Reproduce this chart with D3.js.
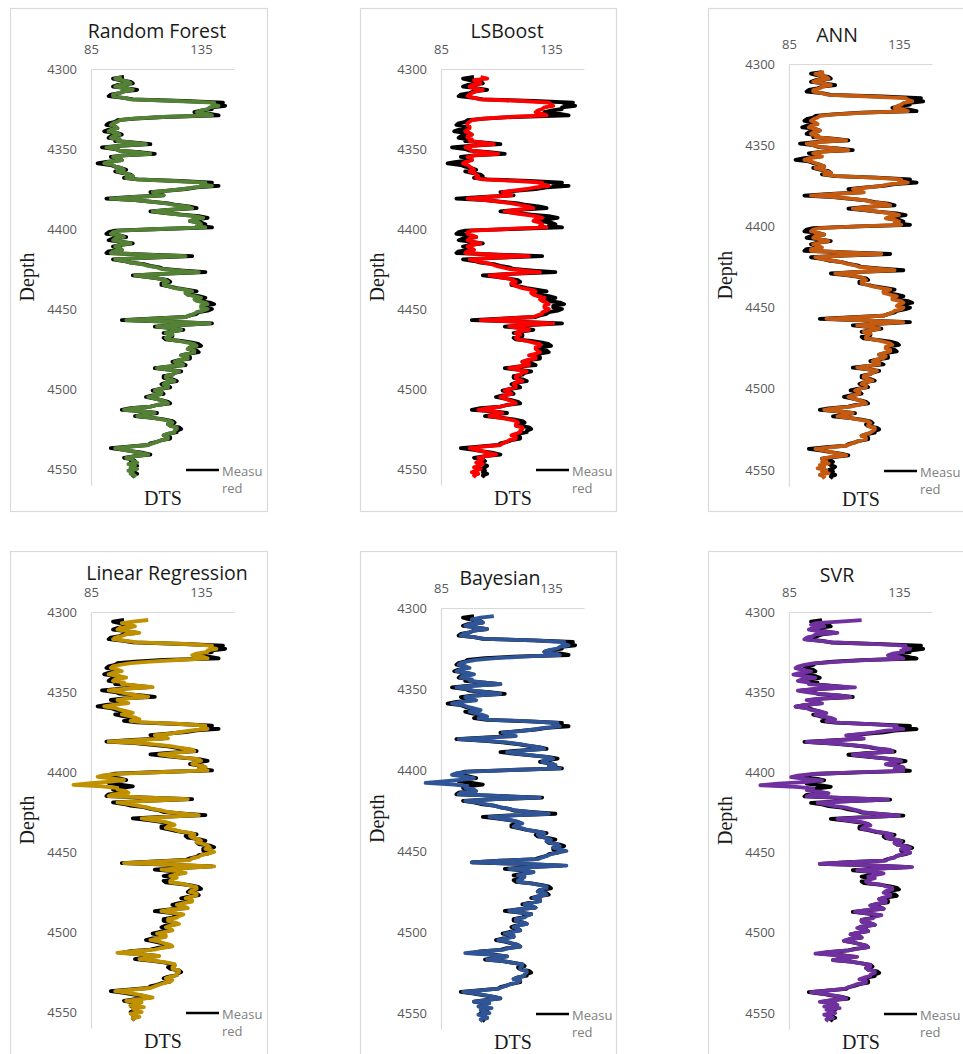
<!DOCTYPE html>
<html>
<head>
<meta charset="utf-8">
<script src="https://cdn.jsdelivr.net/npm/d3@7"></script>
<style>
  html, body { margin: 0; padding: 0; background: #ffffff; }
  svg { display: block; }
</style>
</head>
<body>
<script>
// ---------------- DATA ----------------
const depths = [
  4305,4306,4307,4308,4309,4310,4311,4312,4313,4314,
  4315,4316,4317,4318,4319,4320,4321,4322,4323,4324,
  4325,4326,4327,4328,4329,4330,4331,4332,4333,4334,
  4335,4336,4337,4338,4339,4340,4341,4342,4343,4344,
  4345,4346,4347,4348,4349,4350,4351,4352,4353,4354,
  4355,4356,4357,4358,4359,4360,4361,4362,4363,4364,
  4365,4366,4367,4368,4369,4370,4371,4372,4373,4374,
  4375,4376,4377,4378,4379,4380,4381,4382,4383,4384,
  4385,4386,4387,4388,4389,4390,4391,4392,4393,4394,
  4395,4396,4397,4398,4399,4400,4401,4402,4403,4404,
  4405,4406,4407,4408,4409,4410,4411,4412,4413,4414,
  4415,4416,4417,4418,4419,4420,4421,4422,4423,4424,
  4425,4426,4427,4428,4429,4430,4431,4432,4433,4434,
  4435,4436,4437,4438,4439,4440,4441,4442,4443,4444,
  4445,4446,4447,4448,4449,4450,4451,4452,4453,4454,
  4455,4456,4457,4458,4459,4460,4461,4462,4463,4464,
  4465,4466,4467,4468,4469,4470,4471,4472,4473,4474,
  4475,4476,4477,4478,4479,4480,4481,4482,4483,4484,
  4485,4486,4487,4488,4489,4490,4491,4492,4493,4494,
  4495,4496,4497,4498,4499,4500,4501,4502,4503,4504,
  4505,4506,4507,4508,4509,4510,4511,4512,4513,4514,
  4515,4516,4517,4518,4519,4520,4521,4522,4523,4524,
  4525,4526,4527,4528,4529,4530,4531,4532,4533,4534,
  4535,4536,4537,4538,4539,4540,4541,4542,4543,4544,
  4545,4546,4547,4548,4549,4550,4551,4552,4553,4554,
  4555
];

const measured = [
  100, 95, 98,103,104, 97, 95,101,106,100,
   98, 94, 93,100,104,127,145,141,146,140,
  140,135,132,139,143,118,105, 97, 96, 93,
   92, 96, 97, 93, 91, 97, 99, 94, 93, 98,
   96,105,112, 98, 90, 96, 98,107,114,100,
   94, 98, 99, 92, 88, 94, 96, 99,101, 96,
   99,103,104,100,106,125,140,136,143,133,
  128,120,112,116,118,104, 92,105,113,120,
  124,130,133,120,112,119,126,134,138,133,
  130,135,137,134,140,117, 96, 93, 92, 98,
  101, 95, 93, 99,104, 98, 95, 98, 99, 93,
   92,111,131,110, 95,100,103,109,112,116,
  118,127,137,117,104,111,116,120,121,117,
  117,121,124,129,133,128,129,134,137,133,
  134,139,141,136,136,140,138,134,133,130,
  128,112, 99,122,140,125,114,122,127,122,
  118,122,122,118,119,126,131,134,135,130,
  129,133,134,129,126,130,130,125,122,126,
  128,120,114,121,126,123,122,118,118,122,
  124,119,117,120,121,116,113,117,118,113,
  110,114,117,120,121,115,112,103, 99,109,
  115,109,105,113,118,122,123,120,121,125,
  126,124,124,120,118,121,121,117,115,112,
  111,102, 94,100,104,109,112,105,100,104,
  105,103,104,106,105,103,105,104,106,104,
  105
];

const randomForest = [
   99, 96, 99,102,103, 98, 96,101,104,100,
   98, 95, 95,100,103,124,141,140,143,139,
  138,135,133,138,140,117,104, 98, 97, 95,
   94, 96, 97, 94, 93, 97, 98, 95, 94, 98,
   97,104,110, 98, 92, 96, 98,106,112,100,
   95, 98, 99, 93, 91, 95, 96, 99,100, 97,
  100,102,104,101,106,123,137,135,140,132,
  127,120,113,116,118,105, 94,105,113,119,
  123,129,131,120,113,119,125,132,136,132,
  130,134,135,133,137,116, 98, 95, 94, 98,
  100, 96, 95, 99,103, 98, 96, 98, 99, 95,
   94,110,128,109, 96,100,103,108,111,115,
  117,125,134,117,105,111,116,119,120,118,
  118,121,123,128,131,128,129,132,135,132,
  133,137,138,135,135,138,136,133,132,130,
  128,113,101,122,139,125,115,122,126,122,
  119,122,121,119,120,125,129,132,133,130,
  129,132,132,129,126,129,129,125,123,126,
  127,120,115,121,125,123,122,119,119,121,
  123,119,118,120,120,116,114,117,117,114,
  111,114,117,119,120,115,112,104,100,109,
  114,110,106,113,117,121,122,120,121,124,
  124,123,123,120,118,120,120,117,115,113,
  111,103, 96,100,104,108,111,105,101,104,
  104,106,102,105,103,106,102,104,103,105,
  104
];

const lsBoost = [
  103,106,100,101,103, 99, 98,100,104,101,
   99, 98, 97,100,103,122,134,135,136,132,
  131,129,128,131,133,116,104, 99, 98, 97,
   97, 98, 98, 97, 96, 98, 99, 97, 97, 99,
   98,104,109, 99, 96, 98, 99,105,111,100,
   97, 99, 99, 96, 95, 97, 98, 99,100, 98,
  100,101,102,101,104,120,131,130,134,128,
  124,118,113,115,117,106, 97,105,112,117,
  121,125,127,119,114,118,123,128,131,128,
  127,130,131,130,133,115, 99, 97, 97, 99,
  101, 98, 97, 99,103, 99, 97, 99,100, 97,
   96,109,125,108, 98,101,104,108,110,113,
  116,123,130,116,107,111,116,118,119,117,
  118,120,122,126,128,126,127,129,132,130,
  131,133,134,132,132,134,133,131,131,129,
  127,114,103,121,136,124,116,121,125,121,
  119,121,120,119,120,124,127,130,130,128,
  128,129,130,128,125,128,128,124,122,125,
  125,120,116,120,124,122,121,119,119,120,
  122,119,118,119,119,116,114,116,117,114,
  112,114,116,118,119,115,112,106,102,109,
  113,110,107,112,116,119,120,119,119,122,
  122,121,121,119,117,119,119,116,115,113,
  112,104, 98,101,104,107,110,105,102,104,
  103,101,104,102,100,103,101, 99,102,100,
  101
];

const ann = [
  101, 97, 99,102,103, 98, 96,101,104,100,
   99, 96, 96,100,103,122,138,139,141,137,
  136,134,133,137,139,120,106, 99, 98, 96,
   95, 97, 98, 95, 94, 97, 99, 96, 95, 98,
   97,104,111, 99, 93, 96, 99,106,112,100,
   96, 98,100, 94, 92, 95, 97, 99,101, 97,
  100,102,104,101,107,124,136,135,139,131,
  127,121,114,117,119,106, 95,106,114,120,
  123,129,131,121,114,120,126,132,135,131,
  129,133,135,133,136,116, 99, 96, 95, 98,
  101, 97, 96, 99,103, 99, 96, 98,100, 95,
   95,110,127,109, 97,100,104,109,111,115,
  117,125,133,117,106,112,117,119,120,118,
  118,121,123,127,131,128,128,131,134,132,
  132,136,137,135,134,137,136,133,132,130,
  128,114,102,122,137,125,116,122,126,122,
  119,122,121,120,120,125,128,131,132,129,
  129,131,131,128,126,129,128,125,123,126,
  126,120,116,121,125,123,122,119,119,121,
  123,119,118,120,120,117,115,117,117,114,
  112,114,117,119,120,116,113,105,101,109,
  114,110,107,113,117,121,122,121,121,124,
  124,123,122,120,118,120,120,117,115,113,
  111,104, 97,101,104,108,111,104,100,102,
  100,103, 99,101, 98,102,100,103, 99,101,
  100
];

const linearRegression = [
  111,104, 99,103,105, 98, 97,102,107,101,
   99, 96, 95,101,106,128,140,139,142,138,
  138,133,131,136,138,124,112,103, 98, 95,
   94, 97, 99, 95, 93, 98,101, 96, 95,100,
   99,106,113,100, 93, 98,101,106,111,102,
   97,100,102, 95, 91, 96, 98,101,104, 99,
  102,105,107,103,109,126,137,135,138,131,
  126,121,114,118,120,107, 93,107,116,122,
  126,131,132,123,116,121,127,134,135,132,
  131,135,137,134,138,118, 99, 91, 88, 94,
  100, 94, 85, 77, 90, 97, 97,101,102, 95,
   93,112,129,111, 97,102,106,110,113,117,
  120,127,134,119,108,113,118,121,123,120,
  119,123,125,130,132,130,131,134,135,133,
  136,138,139,137,140,141,138,135,134,131,
  130,113,100,124,141,127,117,124,128,124,
  121,124,122,121,121,127,130,133,133,131,
  130,133,133,130,128,131,131,127,124,127,
  129,121,117,122,127,125,124,120,120,123,
  125,121,119,121,122,118,115,119,119,115,
  112,116,118,121,122,117,114,104, 97,108,
  116,111,107,114,119,123,123,122,122,125,
  125,124,124,121,119,122,121,118,116,114,
  112,104, 96,102,106,110,113,107,101,108,
  106,103,109,104,106,108,103,105,107,104,
  105
];

const bayesian = [
  109,103, 99,102,104, 98, 96,101,106,100,
   98, 95, 94,100,105,127,141,140,143,139,
  138,134,132,137,139,122,110,101, 97, 94,
   93, 96, 98, 94, 92, 97,100, 95, 94, 99,
   98,105,112, 99, 92, 97,100,106,112,101,
   96, 99,101, 94, 90, 95, 97,100,103, 98,
  101,104,106,102,108,126,138,136,139,132,
  127,121,113,117,119,106, 93,106,115,121,
  125,130,132,122,115,120,127,134,136,132,
  131,135,137,134,139,117, 98, 92, 90, 95,
  100, 95, 86, 78, 91, 97, 96,100,101, 94,
   93,111,130,110, 96,101,105,109,112,116,
  119,126,134,118,107,112,117,120,122,119,
  118,122,124,129,132,129,130,133,135,133,
  135,138,139,136,139,142,138,135,133,131,
  129,112, 99,123,142,126,116,123,127,123,
  120,123,122,120,120,126,130,133,133,130,
  129,132,133,129,127,130,130,126,123,126,
  128,120,116,121,126,124,123,119,119,122,
  124,120,118,120,121,117,114,118,118,114,
  111,115,117,120,121,116,113,103, 96,107,
  115,110,106,113,118,122,122,121,121,124,
  124,123,123,120,118,121,120,117,115,113,
  111,103, 95,101,105,109,112,106,100,107,
  105,102,108,103,105,107,102,104,106,103,
  104
];

const svr = [
  118,108, 97, 95,101, 96, 94, 99,107, 97,
   96, 93, 92, 99,105,125,138,137,140,136,
  137,132,130,135,137,120,108, 96, 92, 89,
   88, 91, 95, 90, 87, 92, 97, 91, 89, 94,
   94,104,115, 97, 89, 93, 99,108,113, 99,
   93, 97,100, 92, 88, 93, 95, 99,102, 97,
  100,104,106,102,108,124,134,133,137,129,
  124,118,111,116,119,105, 93,106,114,121,
  125,131,132,121,114,120,126,134,136,131,
  129,134,137,133,137,115, 96, 89, 86, 92,
  100, 92, 80, 72, 88, 96, 93, 99,103, 95,
   93,112,130,111, 98,102,106,111,114,117,
  119,128,135,119,107,112,118,121,122,119,
  118,122,125,130,132,129,130,134,136,133,
  134,138,140,136,139,140,137,134,133,130,
  129,112, 99,123,141,126,116,123,128,124,
  121,124,121,120,121,127,129,132,132,129,
  128,131,131,128,126,129,129,125,122,125,
  128,119,115,121,127,124,123,118,118,122,
  124,118,116,120,121,116,113,117,118,112,
  110,114,117,120,121,116,112,102, 97,108,
  116,110,105,113,118,122,122,120,121,124,
  124,122,122,119,117,120,120,116,114,112,
  110,102, 95,101,105,109,111,104, 99,106,
  107,101,108,102,104,106,101,103,105,102,
  103
];

const modelNames = ["Random Forest", "LSBoost", "ANN", "Linear Regression", "Bayesian", "SVR"];
const modelSeries = [randomForest, lsBoost, ann, linearRegression, bayesian, svr];
const modelColors = ["#548235", "#ff0000", "#c55a11", "#bf9000", "#2f5597", "#7030a0"];

const xTicks = [85, 135];
const yTicks = [4300, 4350, 4400, 4450, 4500, 4550];
const xDomain = [85, 150];
const yAxisEnd = 4560;
const legendLabel = ["Measu", "red"];
const xTitle = "DTS";
const yTitle = "Depth";

// ---------------- LAYOUT ----------------
const W = 963, H = 1054;
const layout = [
  { px: 10,  py: 8,   w: 257, h: 503, titleX: 147, titleY: 38,  top: 69,  bot: 469 },
  { px: 360, py: 8,   w: 256, h: 503, titleX: 147, titleY: 38,  top: 69,  bot: 469 },
  { px: 708, py: 8,   w: 262, h: 503, titleX: 129, titleY: 42,  top: 64,  bot: 470 },
  { px: 10,  py: 551, w: 257, h: 510, titleX: 157, titleY: 580, top: 612, bot: 1012 },
  { px: 360, py: 551, w: 256, h: 510, titleX: 140, titleY: 585, top: 608, bot: 1013 },
  { px: 708, py: 551, w: 262, h: 510, titleX: 129, titleY: 582, top: 612, bot: 1013 }
];

const svg = d3.select("body").append("svg")
  .attr("width", W).attr("height", H)
  .attr("viewBox", `0 0 ${W} ${H}`);

svg.append("rect").attr("width", W).attr("height", H).attr("fill", "#ffffff");

const tickFont = "'Open Sans', 'Liberation Sans', sans-serif";
const serifFont = "'Liberation Serif', 'DejaVu Serif', serif";

layout.forEach((L, i) => {
  const g = svg.append("g").attr("transform", `translate(${L.px},${L.py})`);

  g.append("rect")
    .attr("x", 0.5).attr("y", 0.5)
    .attr("width", L.w).attr("height", L.h)
    .attr("fill", "#ffffff")
    .attr("stroke", "#d9d9d9").attr("stroke-width", 1.2);

  const x = d3.scaleLinear().domain(xDomain).range([81, 81 + (xDomain[1] - xDomain[0]) * 2.2]);
  const yTop = L.top - L.py, yBot = L.bot - L.py;
  const y = d3.scaleLinear().domain([4300, 4550]).range([yTop, yBot]);
  const yAxisScale = d3.scaleLinear().domain([4300, yAxisEnd]).range([yTop, y(yAxisEnd)]);

  const xAxis = g.append("g").attr("transform", `translate(0,${yTop})`)
    .call(d3.axisTop(x).tickValues(xTicks).tickSize(0).tickPadding(15).tickFormat(d3.format("d")));
  xAxis.select(".domain").attr("stroke", "#d9d9d9").attr("stroke-width", 1.2);
  xAxis.selectAll("text").attr("font-family", tickFont).attr("font-size", 13).attr("fill", "#595959");

  const yAxis = g.append("g").attr("transform", `translate(${x(xDomain[0])},0)`)
    .call(d3.axisLeft(yAxisScale).tickValues(yTicks).tickSize(0).tickPadding(14).tickFormat(d3.format("d")));
  yAxis.select(".domain").attr("stroke", "#d9d9d9").attr("stroke-width", 1.2);
  yAxis.selectAll("text").attr("font-family", tickFont).attr("font-size", 13).attr("fill", "#595959");

  const line = d3.line()
    .x(d => x(d[0]))
    .y(d => y(d[1]))
    .curve(d3.curveLinear);

  const mData = measured.map((v, k) => [v, depths[k]]);
  const pData = modelSeries[i].map((v, k) => [v, depths[k]]);

  g.append("path").datum(mData)
    .attr("d", line)
    .attr("fill", "none")
    .attr("stroke", "#000000")
    .attr("stroke-width", 3.8)
    .attr("stroke-linejoin", "round");

  g.append("path").datum(pData)
    .attr("d", line)
    .attr("fill", "none")
    .attr("stroke", modelColors[i])
    .attr("stroke-width", 3.8)
    .attr("stroke-linejoin", "round");

  g.append("text")
    .attr("x", L.titleX).attr("y", L.titleY - L.py)
    .attr("text-anchor", "middle")
    .attr("font-family", tickFont)
    .attr("font-size", 19.5)
    .attr("fill", "#1a1a1a")
    .text(modelNames[i]);

  const midY = (yTop + y(yAxisEnd)) / 2;
  g.append("text")
    .attr("transform", `translate(24,${midY}) rotate(-90)`)
    .attr("text-anchor", "middle")
    .attr("font-family", serifFont)
    .attr("font-size", 20)
    .attr("fill", "#1a1a1a")
    .text(yTitle);

  g.append("text")
    .attr("x", 153).attr("y", yBot + 36)
    .attr("text-anchor", "middle")
    .attr("font-family", serifFont)
    .attr("font-size", 20)
    .attr("fill", "#1a1a1a")
    .text(xTitle);

  const ly = y(4550) + 1;
  g.append("line")
    .attr("x1", 176).attr("x2", 209)
    .attr("y1", ly).attr("y2", ly)
    .attr("stroke", "#000000").attr("stroke-width", 2.5);
  g.append("text")
    .attr("x", 212).attr("y", ly + 6)
    .attr("font-family", tickFont).attr("font-size", 13).attr("fill", "#808080")
    .text(legendLabel[0]);
  g.append("text")
    .attr("x", 212).attr("y", ly + 23)
    .attr("font-family", tickFont).attr("font-size", 13).attr("fill", "#808080")
    .text(legendLabel[1]);
});
</script>
</body>
</html>
